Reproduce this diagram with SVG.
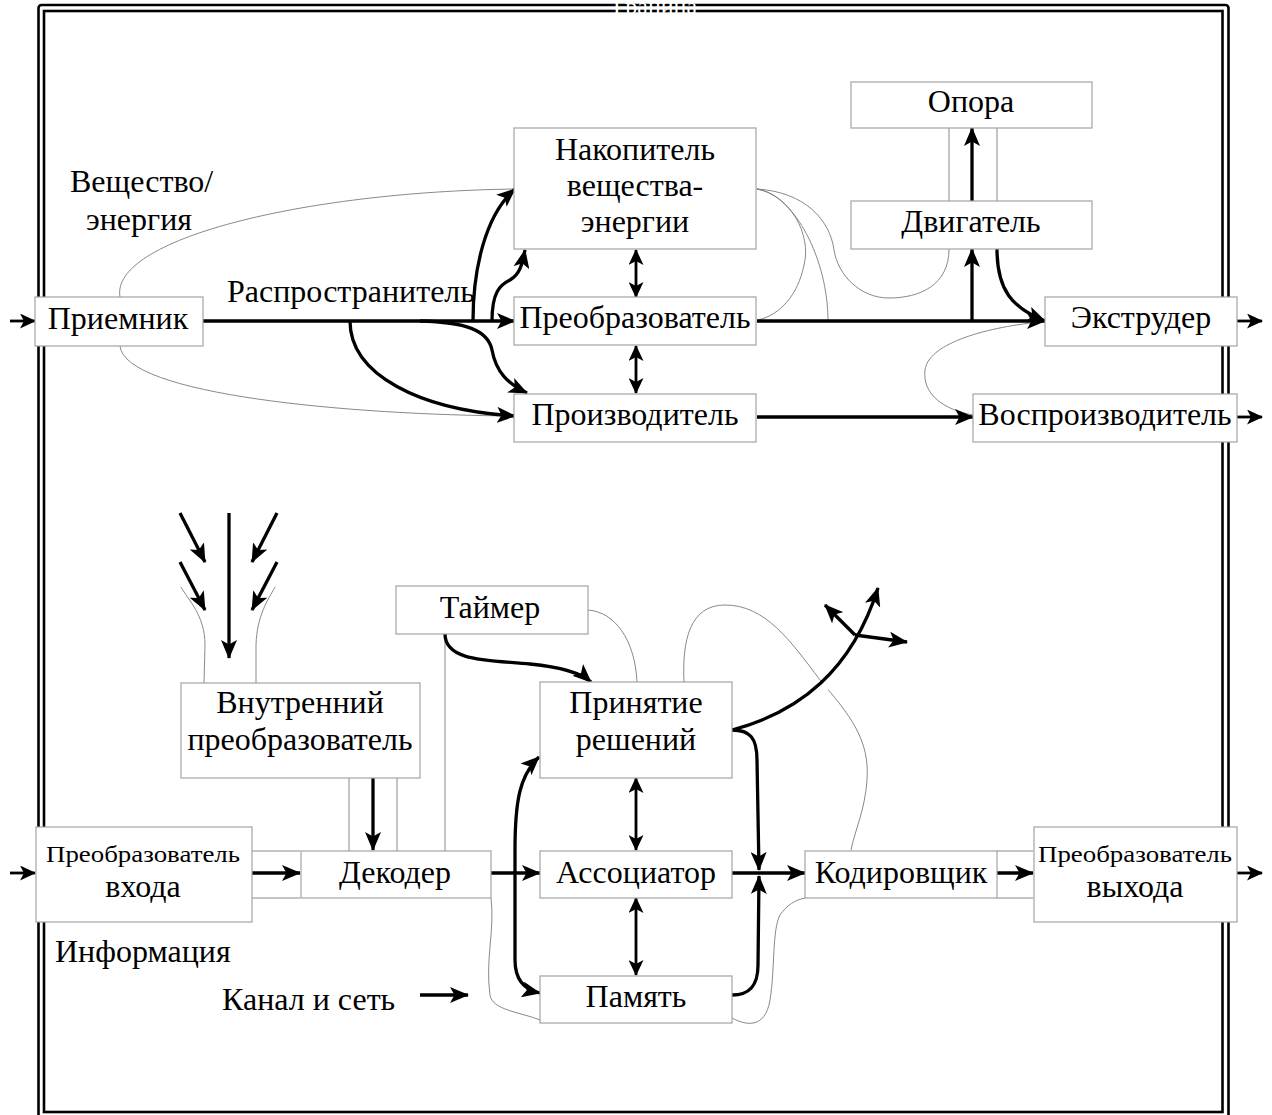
<svg xmlns="http://www.w3.org/2000/svg" width="1272" height="1115" viewBox="0 0 1272 1115">
  <style>
    .box { fill: #fff; stroke: #a3a3a3; stroke-width: 1.2; }
    .t { font-family: "Liberation Serif", "Times New Roman", serif; font-size: 32px; fill: #000; text-anchor: middle; }
    .lbl { font-family: "Liberation Serif", "Times New Roman", serif; font-size: 32px; fill: #000; }
    .thick { fill: none; stroke: #000; stroke-width: 3.3; marker-end: url(#ah); }
    .thin2 { fill: none; stroke: #000; stroke-width: 2.8; marker-start: url(#ah2); marker-end: url(#ah2); }
    .io { fill: none; stroke: #000; stroke-width: 2.8; marker-end: url(#ah2); }
    .gray { fill: none; stroke: #7a7a7a; stroke-width: 0.9; }
    .halo { fill: none; stroke: #fff; stroke-width: 9; }
    .frame { fill: none; stroke: #000; stroke-width: 2.6; }
  </style>
  <defs>
    <marker id="ah" viewBox="0 0 19 16" refX="18" refY="8" markerWidth="19" markerHeight="16" markerUnits="userSpaceOnUse" orient="auto-start-reverse">
      <path d="M0,0 L19,8 L0,16 L4.5,8 z" fill="#000"/>
    </marker>
    <marker id="ah2" viewBox="0 0 16 15" refX="15" refY="7.5" markerWidth="16" markerHeight="15" markerUnits="userSpaceOnUse" orient="auto-start-reverse">
      <path d="M0,0 L16,7.5 L0,15 L4,7.5 z" fill="#000"/>
    </marker>
  </defs>

  <rect width="1272" height="1115" fill="#fff"/>

  <!-- boundary: double frame with its caption -->
  <g id="boundary">
    <rect class="frame" x="38.5" y="5" width="1190" height="1125" rx="3"/>
    <rect class="frame" x="44" y="11" width="1178.5" height="1101"/>
  </g>

  <!-- connectors -->
  <g id="connectors">
    <!-- substance / energy: thin links -->
    <path class="gray" d="M120,297 C110,240 300,192 515,189"/>
    <path class="gray" d="M120,346 C125,395 350,415 515,416"/>
    <path class="gray" d="M757,189 C790,195 812,235 804,265 C798,295 780,315 758,320"/>
    <path class="gray" d="M757,189 C795,195 828,260 828,321"/>
    <path class="gray" d="M757,189 C805,192 830,220 834,250 C838,275 860,298 889,298 C920,298 949,285 949,249"/>
    <path class="gray" d="M949,128 V201 M997,128 V201"/>
    <path class="gray" d="M1040,322 C980,328 928,345 925,370 C922,395 945,410 973,415"/>

    <!-- information: thin links -->
    <path class="gray" d="M181,587 C188,600 205,615 205,645 L204,683"/>
    <path class="gray" d="M275,587 C268,600 257,615 256,645 L256,683"/>
    <path class="gray" d="M349,778 V851 M397,778 V851 M445,634 V851"/>
    <path class="gray" d="M588,610 C615,612 635,640 637,682"/>
    <path class="gray" d="M684,682 C682,640 690,605 725,605 C765,605 790,640 820,680 C850,715 870,740 867,780 C865,810 855,830 851,850"/>
    <path class="gray" d="M491,898 C495,930 485,960 490,995 C492,1010 520,1012 540,1020"/>
    <path class="gray" d="M732,1018 C745,1025 765,1030 770,1000 C775,970 772,930 780,915 C787,905 795,900 805,898"/>
    <path class="gray" d="M252,851 H300 M252,898 H300 M997,851 H1033 M997,898 H1033"/>

    <!-- substance / energy flows -->
    <path class="io" d="M10,321 H35"/>
    <path class="thick" d="M203,321 H515"/>
    <path class="thick" d="M473,321 C473,270 485,215 515,189"/>
    <path class="thick" d="M492,321 C492,292 500,285 510,280 C520,274 522,265 525,250"/>
    <path class="thick" d="M420,321 C465,322 488,330 492,350 C496,372 508,384 527,393"/>
    <path class="thick" d="M350,321 C350,375 420,410 515,416"/>
    <path class="thin2" d="M636,250 V297"/>
    <path class="thin2" d="M636,346 V393"/>
    <path class="thick" d="M757,321 H1045"/>
    <path class="thick" d="M972,321 V249"/>
    <path class="thick" d="M972,201 V128"/>
    <path class="thick" d="M997,249 C997,290 1012,308 1045,321"/>
    <path class="thick" d="M757,417 H973"/>
    <path class="io" d="M1237,321 H1262"/>
    <path class="io" d="M1237,417 H1262"/>

    <!-- information flows -->
    <path class="thick" d="M180,513 L205,562"/>
    <path class="thick" d="M180,562 L205,610"/>
    <path class="thick" d="M277,513 L252,562"/>
    <path class="thick" d="M277,562 L252,610"/>
    <path class="thick" d="M229,513 V658"/>
    <path class="thick" d="M373,778 V850"/>
    <path class="thick" d="M445,634 C445,662 490,660 530,664 C560,667 580,672 591,682"/>
    <path class="halo" d="M800,705 C815,697 825,688 838,672"/>
    <path class="thick" d="M732,730 C800,712 852,670 878,588"/>
    <path class="thick" d="M855,635 L825,605"/>
    <path class="thick" d="M855,635 L907,642"/>
    <path class="thick" d="M732,730 C750,730 757,738 757,760 L759,870"/>
    <path class="thick" d="M732,995 C750,995 758,985 758,965 L759,876"/>
    <path class="io" d="M10,873 H35"/>
    <path class="thick" d="M252,873 H300"/>
    <path class="thick" d="M491,873 H540"/>
    <path class="thick" d="M732,873 H805"/>
    <path class="thick" d="M997,873 H1033"/>
    <path class="io" d="M1237,873 H1262"/>
    <path class="thin2" d="M636,778 V850"/>
    <path class="thin2" d="M636,898 V975"/>
    <path class="thick" style="marker-start:url(#ah)" d="M539,757 C520,775 515,800 515,850 L515,960 C515,980 525,990 540,993"/>
    <path class="thick" d="M420,995 H468"/>
  </g>

  <!-- substance / energy nodes -->
  <g id="opora"><rect class="box" x="851" y="82" width="241" height="46"/><text class="t" x="971" y="112">Опора</text></g>
  <g id="nakopitel"><rect class="box" x="514" y="128" width="242" height="121"/>
    <text class="t" x="635" y="160">Накопитель</text><text class="t" x="635" y="196">вещества-</text><text class="t" x="635" y="232">энергии</text></g>
  <g id="dvigatel"><rect class="box" x="851" y="201" width="241" height="48"/><text class="t" x="971" y="232">Двигатель</text></g>
  <g id="priemnik"><rect class="box" x="35" y="297" width="168" height="49"/><text class="t" x="118" y="329">Приемник</text></g>
  <g id="preobrazovatel"><rect class="box" x="514" y="297" width="242" height="48"/><text class="t" x="635" y="328">Преобразователь</text></g>
  <g id="ekstruder"><rect class="box" x="1045" y="297" width="192" height="49"/><text class="t" x="1141" y="328">Экструдер</text></g>
  <g id="proizvoditel"><rect class="box" x="514" y="394" width="242" height="48"/><text class="t" x="635" y="425">Производитель</text></g>
  <g id="vosproizvoditel"><rect class="box" x="973" y="394" width="264" height="48"/><text class="t" x="1105" y="425">Воспроизводитель</text></g>

  <!-- information nodes -->
  <g id="taimer"><rect class="box" x="396" y="586" width="192" height="48"/><text class="t" x="490" y="618">Таймер</text></g>
  <g id="vnutrenniy"><rect class="box" x="181" y="683" width="239" height="95"/>
    <text class="t" x="300" y="713">Внутренний</text><text class="t" x="300" y="750">преобразователь</text></g>
  <g id="prinyatie"><rect class="box" x="540" y="682" width="192" height="96"/>
    <text class="t" x="636" y="713">Принятие</text><text class="t" x="636" y="750">решений</text></g>
  <g id="preobr-vhoda"><rect class="box" x="36" y="827" width="216" height="95"/>
    <text class="t" x="143" y="862" style="font-size:24px" textLength="194" lengthAdjust="spacingAndGlyphs">Преобразователь</text>
    <text class="t" x="143" y="897">входа</text></g>
  <g id="dekoder"><rect class="box" x="301" y="851" width="190" height="47"/><text class="t" x="395" y="883">Декодер</text></g>
  <g id="associator"><rect class="box" x="540" y="851" width="192" height="47"/><text class="t" x="636" y="883">Ассоциатор</text></g>
  <g id="kodirovshik"><rect class="box" x="805" y="851" width="192" height="47"/><text class="t" x="901" y="883">Кодировщик</text></g>
  <g id="preobr-vyhoda"><rect class="box" x="1034" y="827" width="203" height="95"/>
    <text class="t" x="1135" y="862" style="font-size:24px" textLength="194" lengthAdjust="spacingAndGlyphs">Преобразователь</text>
    <text class="t" x="1135" y="897">выхода</text></g>
  <g id="pamyat"><rect class="box" x="540" y="976" width="192" height="47"/><text class="t" x="636" y="1007">Память</text></g>

  <!-- free labels -->
  <g id="labels">
    <text class="lbl" x="70" y="192">Вещество/</text>
    <text class="lbl" x="86" y="230">энергия</text>
    <text class="lbl" x="227" y="302">Распространитель</text>
    <text class="lbl" x="55" y="962">Информация</text>
    <text class="lbl" x="222" y="1010">Канал и сеть</text>
    <text x="655" y="14" style="font-family:'Liberation Serif',serif;font-size:24px;fill:#fff;text-anchor:middle">Граница</text>
  </g>
</svg>
